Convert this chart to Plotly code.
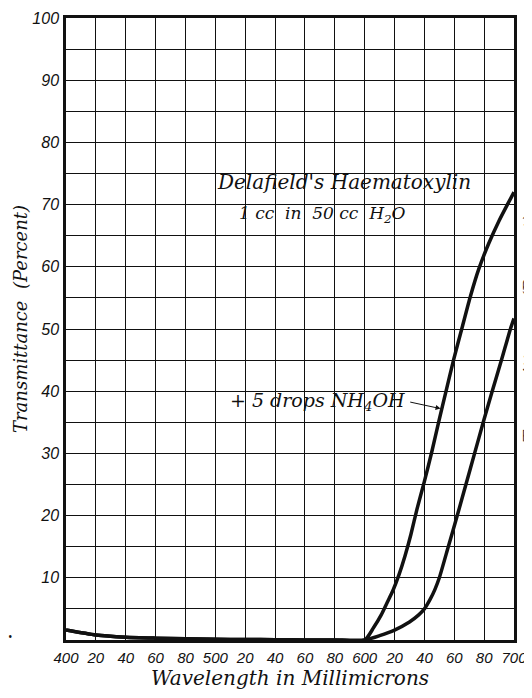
"""Transmittance curves for Delafield's Haematoxylin, redrawn in Plotly."""
import plotly.graph_objects as go

# Shared low part of both curves (400-600 nm)
base_wl = [400, 420, 440, 460, 480, 500, 520, 540, 560, 580, 600]
base_t = [1.6, 0.8, 0.45, 0.3, 0.2, 0.12, 0.08, 0.05, 0.02, 0.0, 0.0]

# Curve with +5 drops NH4OH (left, rises first)
nh4_wl = [606, 611, 615, 619, 623, 627, 631, 635, 640, 645, 649.5, 654.5, 659.5,
          665, 670.5, 676.5, 683, 690, 696, 700]
nh4_t = [2.0, 4.0, 6.0, 8.0, 10.5, 13.5, 17, 21, 25.5, 30.3, 35, 40, 45,
         50, 55, 59.7, 63.7, 67.4, 70.2, 72]

# Plain solution, 1 cc in 50 cc H2O (right curve)
plain_wl = [610, 620, 630, 636, 640, 644, 647, 650, 656, 662, 667.8, 673.6,
            679.4, 685.4, 691.6, 697.6, 700]
plain_t = [0.7, 1.6, 2.9, 4.0, 5.0, 6.6, 8.1, 10, 15, 20, 25, 30,
           35, 40, 45, 50, 51.7]

x_ticks = list(range(400, 701, 20))
x_labels = ["400", "20", "40", "60", "80", "500", "20", "40", "60", "80",
            "600", "20", "40", "60", "80", "700"]
y_ticks = list(range(10, 101, 10))
y_labels = [str(v) for v in y_ticks]

SERIF = "DejaVu Serif"
SANS = "Liberation Sans"
INK = "#111111"

fig = go.Figure()
fig.add_trace(go.Scatter(
    x=base_wl + nh4_wl, y=base_t + nh4_t, mode="lines",
    line=dict(color=INK, width=3.5, shape="spline", smoothing=0.6),
    name="+5 drops NH4OH", showlegend=False, hoverinfo="skip",
))
fig.add_trace(go.Scatter(
    x=base_wl + plain_wl, y=base_t + plain_t, mode="lines",
    line=dict(color=INK, width=3.5, shape="spline", smoothing=0.6),
    name="1 cc in 50 cc H2O", showlegend=False, hoverinfo="skip",
))

# ---- Labels on the chart ----
fig.add_annotation(x=586, y=73.6, text="Delafield's Haematoxylin", showarrow=False,
                   font=dict(family=SERIF, size=20, color=INK, style="italic"))
fig.add_annotation(x=571.5, y=68.4, text="1 cc  in  50 cc  H<sub>2</sub>O", showarrow=False,
                   font=dict(family=SERIF, size=17, color=INK, style="italic"))
fig.add_annotation(x=628.5, y=38.3, xanchor="right",
                   text="+ 5 drops NH<sub>4</sub>OH", showarrow=False,
                   font=dict(family=SERIF, size=19, color=INK, style="italic"))
fig.add_annotation(x=650.8, y=37.2, ax=629.5, ay=38.3, axref="x", ayref="y",
                   text="", showarrow=True, arrowhead=2, arrowsize=1,
                   arrowwidth=1, arrowcolor=INK)

# y-axis title as an annotation so it can sit a little above centre, like the print
fig.add_annotation(xref="paper", yref="paper", x=-0.1027, y=0.516, textangle=-90,
                   xanchor="center", yanchor="middle",
                   text="Transmittance  (Percent)", showarrow=False,
                   font=dict(family=SERIF, size=18, color=INK, style="italic"))

# Edge of the neighbouring chart on the page, cut off by the scan
fig.add_annotation(xref="paper", yref="paper", x=1.035, y=0.5, textangle=-90,
                   xanchor="center", yanchor="middle",
                   text="Transmittance  (Percent)", showarrow=False,
                   font=dict(family=SERIF, size=18, color="#333333", style="italic"))
fig.add_annotation(xref="paper", yref="paper", x=-0.125, y=0.0064, text="•",
                   xanchor="center", yanchor="middle",
                   showarrow=False, font=dict(size=12, color=INK))

# ---- Layout ----
# The page body offsets the figure by a few pixels; margins account for it.
fig.update_layout(
    width=532, height=698,
    margin=dict(l=58, r=26, t=10, b=66),
    paper_bgcolor="white", plot_bgcolor="white",
)
fig.update_xaxes(
    range=[400, 700], tickvals=x_ticks, ticktext=x_labels,
    showgrid=True, gridcolor=INK, gridwidth=1.2,
    showline=True, linecolor=INK, linewidth=2.5, mirror=True,
    ticks="", ticklabelstandoff=2, zeroline=False, automargin=False,
    ticklabeloverflow="allow",
    tickfont=dict(family=SANS, size=15, color=INK, style="italic"),
    title=dict(text="Wavelength in Millimicrons", standoff=6,
               font=dict(family=SERIF, size=20, color=INK, style="italic")),
)
fig.update_yaxes(
    range=[0, 100], tickvals=y_ticks, ticktext=y_labels,
    showgrid=True, gridcolor=INK, gridwidth=1.2,
    minor=dict(dtick=5, showgrid=True, gridcolor=INK, gridwidth=1.2),
    showline=True, linecolor=INK, linewidth=2.5, mirror=True,
    ticks="", ticklabelstandoff=1, zeroline=False, automargin=False,
    ticklabeloverflow="allow",
    tickfont=dict(family=SANS, size=16, color=INK, style="italic"),
)

fig.write_html("out.html")
